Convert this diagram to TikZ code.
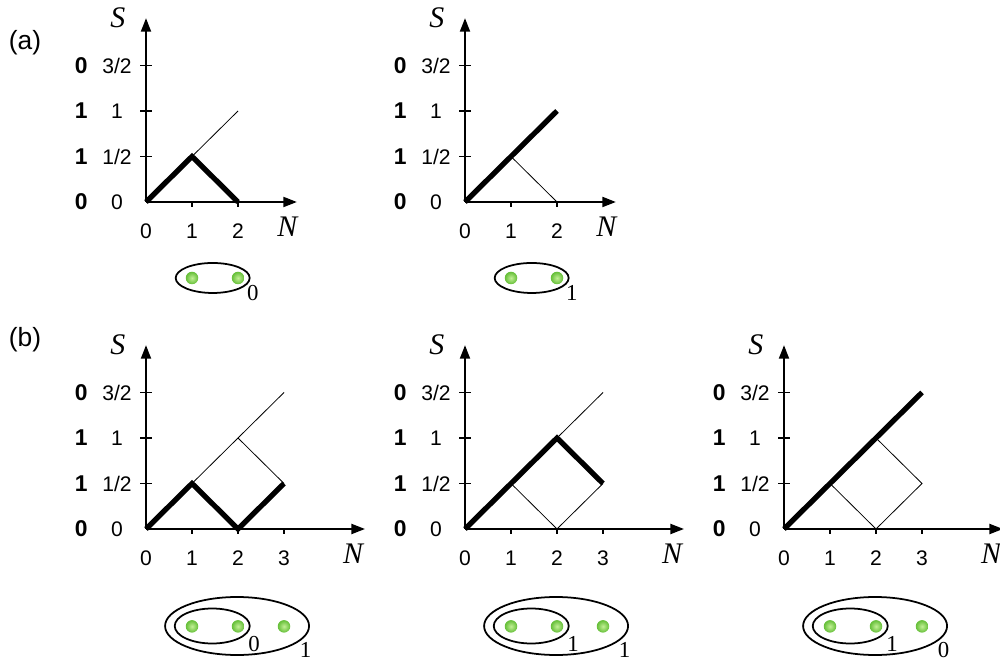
\documentclass[tikz,border=0pt]{standalone}
\usepackage{fontspec}
\setmainfont{Liberation Sans}
\newfontfamily\timesfont{Liberation Serif}
\usetikzlibrary{arrows.meta}
\definecolor{dotgreen}{RGB}{100,190,55}
\definecolor{dotlight}{RGB}{195,240,150}
\tikzset{
  panel/.style={x=0.92cm, y=1.82cm},
  axis/.style={line width=1.1pt, -{Triangle[length=0.27cm, width=0.2cm]}},
  tickmark/.style={line width=0.9pt},
  walk/.style={line width=3pt},
  branch/.style={line width=0.45pt},
  ticklab/.style={font=\fontsize{12}{14}\selectfont, inner sep=0pt},
  boldlab/.style={font=\fontsize{13}{15}\selectfont\bfseries, inner sep=0pt},
  varlab/.style={font=\fontsize{17}{19}\selectfont\timesfont\itshape, inner sep=0pt},
  sublab/.style={font=\fontsize{13}{15}\selectfont\timesfont, inner sep=0pt},
  partlab/.style={font=\fontsize{15}{17}\selectfont, inner sep=0pt},
  cluster/.style={line width=1pt},
  spin/.style={inner color=dotlight, outer color=dotgreen},
}

\begin{document}
\begin{tikzpicture}
  \useasboundingbox (0,0) rectangle (20,13.28);

  \node[partlab] (pa) at (0.5,12.42) {(a)};
  \node[partlab] (pb) at (0.5,6.48) {(b)};

  \begin{scope}[shift={(2.92,9.24)}, panel]
    \draw[axis] (0,0) -- (0,2.02);
    \draw[axis] (0,0) -- (3.28,0);
    \draw[tickmark] (-0.13,0.5) -- (0.13,0.5);
    \draw[tickmark] (-0.13,1) -- (0.13,1);
    \draw[tickmark] (-0.13,1.5) -- (0.13,1.5);
    \draw[tickmark] (1,0) -- (1,-0.055);
    \draw[tickmark] (2,0) -- (2,-0.055);
    \draw[branch] (1,0.5) -- (2,1);
    \draw[walk] (0,0) -- (1,0.5) -- (2,0);
    \node[varlab] (a1S) at (-0.61,2.02) {S};
    \node[varlab] (a1N) at (3.07,-0.275) {N};
    \node[ticklab] (a1y0) at (-0.63,0) {0};
    \node[ticklab] (a1y1) at (-0.63,0.5) {1/2};
    \node[ticklab] (a1y2) at (-0.63,1) {1};
    \node[ticklab] (a1y3) at (-0.63,1.5) {3/2};
    \node[boldlab] (a1b0) at (-1.41,0) {0};
    \node[boldlab] (a1b1) at (-1.41,0.5) {1};
    \node[boldlab] (a1b2) at (-1.41,1) {1};
    \node[boldlab] (a1b3) at (-1.41,1.5) {0};
    \node[ticklab] (a1x0) at (0,-0.32) {0};
    \node[ticklab] (a1x1) at (1,-0.32) {1};
    \node[ticklab] (a1x2) at (2,-0.32) {2};
    \draw[cluster] (1.45,-0.835) ellipse [x radius=0.74cm, y radius=0.3cm];
    \shade[spin] (1,-0.835) circle (0.125cm);
    \shade[spin] (2,-0.835) circle (0.125cm);
    \node[sublab] (a1k) at (2.32,-1.0) {0};
  \end{scope}

  \begin{scope}[shift={(9.3,9.24)}, panel]
    \draw[axis] (0,0) -- (0,2.02);
    \draw[axis] (0,0) -- (3.28,0);
    \draw[tickmark] (-0.13,0.5) -- (0.13,0.5);
    \draw[tickmark] (-0.13,1) -- (0.13,1);
    \draw[tickmark] (-0.13,1.5) -- (0.13,1.5);
    \draw[tickmark] (1,0) -- (1,-0.055);
    \draw[tickmark] (2,0) -- (2,-0.055);
    \draw[branch] (1,0.5) -- (2,0);
    \draw[walk] (0,0) -- (2,1);
    \node[varlab] (a2S) at (-0.61,2.02) {S};
    \node[varlab] (a2N) at (3.07,-0.275) {N};
    \node[ticklab] (a2y0) at (-0.63,0) {0};
    \node[ticklab] (a2y1) at (-0.63,0.5) {1/2};
    \node[ticklab] (a2y2) at (-0.63,1) {1};
    \node[ticklab] (a2y3) at (-0.63,1.5) {3/2};
    \node[boldlab] (a2b0) at (-1.41,0) {0};
    \node[boldlab] (a2b1) at (-1.41,0.5) {1};
    \node[boldlab] (a2b2) at (-1.41,1) {1};
    \node[boldlab] (a2b3) at (-1.41,1.5) {0};
    \node[ticklab] (a2x0) at (0,-0.32) {0};
    \node[ticklab] (a2x1) at (1,-0.32) {1};
    \node[ticklab] (a2x2) at (2,-0.32) {2};
    \draw[cluster] (1.45,-0.835) ellipse [x radius=0.74cm, y radius=0.3cm];
    \shade[spin] (1,-0.835) circle (0.125cm);
    \shade[spin] (2,-0.835) circle (0.125cm);
    \node[sublab] (a2k) at (2.32,-1.0) {1};
  \end{scope}

  \begin{scope}[shift={(2.92,2.7)}, panel]
    \draw[axis] (0,0) -- (0,2.02);
    \draw[axis] (0,0) -- (4.76,0);
    \draw[tickmark] (-0.13,0.5) -- (0.13,0.5);
    \draw[tickmark] (-0.13,1) -- (0.13,1);
    \draw[tickmark] (-0.13,1.5) -- (0.13,1.5);
    \draw[tickmark] (1,0) -- (1,-0.055);
    \draw[tickmark] (2,0) -- (2,-0.055);
    \draw[tickmark] (3,0) -- (3,-0.055);
    \draw[branch] (1,0.5) -- (3,1.5);
    \draw[branch] (2,1) -- (3,0.5);
    \draw[walk] (0,0) -- (1,0.5) -- (2,0) -- (3,0.5);
    \node[varlab] (b1S) at (-0.61,2.02) {S};
    \node[varlab] (b1N) at (4.5,-0.27) {N};
    \node[ticklab] (b1y0) at (-0.63,0) {0};
    \node[ticklab] (b1y1) at (-0.63,0.5) {1/2};
    \node[ticklab] (b1y2) at (-0.63,1) {1};
    \node[ticklab] (b1y3) at (-0.63,1.5) {3/2};
    \node[boldlab] (b1b0) at (-1.41,0) {0};
    \node[boldlab] (b1b1) at (-1.41,0.5) {1};
    \node[boldlab] (b1b2) at (-1.41,1) {1};
    \node[boldlab] (b1b3) at (-1.41,1.5) {0};
    \node[ticklab] (b1x0) at (0,-0.32) {0};
    \node[ticklab] (b1x1) at (1,-0.32) {1};
    \node[ticklab] (b1x2) at (2,-0.32) {2};
    \node[ticklab] (b1x3) at (3,-0.32) {3};
    \draw[cluster] (1.98,-1.066) ellipse [x radius=1.44cm, y radius=0.58cm];
    \draw[cluster] (1.44,-1.066) ellipse [x radius=0.75cm, y radius=0.35cm];
    \shade[spin] (1,-1.07) circle (0.125cm);
    \shade[spin] (2,-1.07) circle (0.125cm);
    \shade[spin] (3,-1.07) circle (0.125cm);
    \node[sublab] (b1k) at (2.35,-1.26) {0};
    \node[sublab] (b1K) at (3.47,-1.33) {1};
  \end{scope}

  \begin{scope}[shift={(9.3,2.7)}, panel]
    \draw[axis] (0,0) -- (0,2.02);
    \draw[axis] (0,0) -- (4.76,0);
    \draw[tickmark] (-0.13,0.5) -- (0.13,0.5);
    \draw[tickmark] (-0.13,1) -- (0.13,1);
    \draw[tickmark] (-0.13,1.5) -- (0.13,1.5);
    \draw[tickmark] (1,0) -- (1,-0.055);
    \draw[tickmark] (2,0) -- (2,-0.055);
    \draw[tickmark] (3,0) -- (3,-0.055);
    \draw[branch] (2,1) -- (3,1.5);
    \draw[branch] (1,0.5) -- (2,0) -- (3,0.5);
    \draw[walk] (0,0) -- (2,1) -- (3,0.5);
    \node[varlab] (b2S) at (-0.61,2.02) {S};
    \node[varlab] (b2N) at (4.5,-0.27) {N};
    \node[ticklab] (b2y0) at (-0.63,0) {0};
    \node[ticklab] (b2y1) at (-0.63,0.5) {1/2};
    \node[ticklab] (b2y2) at (-0.63,1) {1};
    \node[ticklab] (b2y3) at (-0.63,1.5) {3/2};
    \node[boldlab] (b2b0) at (-1.41,0) {0};
    \node[boldlab] (b2b1) at (-1.41,0.5) {1};
    \node[boldlab] (b2b2) at (-1.41,1) {1};
    \node[boldlab] (b2b3) at (-1.41,1.5) {0};
    \node[ticklab] (b2x0) at (0,-0.32) {0};
    \node[ticklab] (b2x1) at (1,-0.32) {1};
    \node[ticklab] (b2x2) at (2,-0.32) {2};
    \node[ticklab] (b2x3) at (3,-0.32) {3};
    \draw[cluster] (1.98,-1.066) ellipse [x radius=1.44cm, y radius=0.58cm];
    \draw[cluster] (1.44,-1.066) ellipse [x radius=0.75cm, y radius=0.35cm];
    \shade[spin] (1,-1.07) circle (0.125cm);
    \shade[spin] (2,-1.07) circle (0.125cm);
    \shade[spin] (3,-1.07) circle (0.125cm);
    \node[sublab] (b2k) at (2.35,-1.26) {1};
    \node[sublab] (b2K) at (3.47,-1.33) {1};
  \end{scope}

  \begin{scope}[shift={(15.68,2.7)}, panel]
    \draw[axis] (0,0) -- (0,2.02);
    \draw[axis] (0,0) -- (4.76,0);
    \draw[tickmark] (-0.13,0.5) -- (0.13,0.5);
    \draw[tickmark] (-0.13,1) -- (0.13,1);
    \draw[tickmark] (-0.13,1.5) -- (0.13,1.5);
    \draw[tickmark] (1,0) -- (1,-0.055);
    \draw[tickmark] (2,0) -- (2,-0.055);
    \draw[tickmark] (3,0) -- (3,-0.055);
    \draw[branch] (1,0.5) -- (2,0) -- (3,0.5) -- (2,1);
    \draw[walk] (0,0) -- (3,1.5);
    \node[varlab] (b3S) at (-0.61,2.02) {S};
    \node[varlab] (b3N) at (4.5,-0.27) {N};
    \node[ticklab] (b3y0) at (-0.63,0) {0};
    \node[ticklab] (b3y1) at (-0.63,0.5) {1/2};
    \node[ticklab] (b3y2) at (-0.63,1) {1};
    \node[ticklab] (b3y3) at (-0.63,1.5) {3/2};
    \node[boldlab] (b3b0) at (-1.41,0) {0};
    \node[boldlab] (b3b1) at (-1.41,0.5) {1};
    \node[boldlab] (b3b2) at (-1.41,1) {1};
    \node[boldlab] (b3b3) at (-1.41,1.5) {0};
    \node[ticklab] (b3x0) at (0,-0.32) {0};
    \node[ticklab] (b3x1) at (1,-0.32) {1};
    \node[ticklab] (b3x2) at (2,-0.32) {2};
    \node[ticklab] (b3x3) at (3,-0.32) {3};
    \draw[cluster] (1.98,-1.066) ellipse [x radius=1.44cm, y radius=0.58cm];
    \draw[cluster] (1.44,-1.066) ellipse [x radius=0.75cm, y radius=0.35cm];
    \shade[spin] (1,-1.07) circle (0.125cm);
    \shade[spin] (2,-1.07) circle (0.125cm);
    \shade[spin] (3,-1.07) circle (0.125cm);
    \node[sublab] (b3k) at (2.35,-1.26) {1};
    \node[sublab] (b3K) at (3.47,-1.33) {0};
  \end{scope}
\end{tikzpicture}
\end{document}
